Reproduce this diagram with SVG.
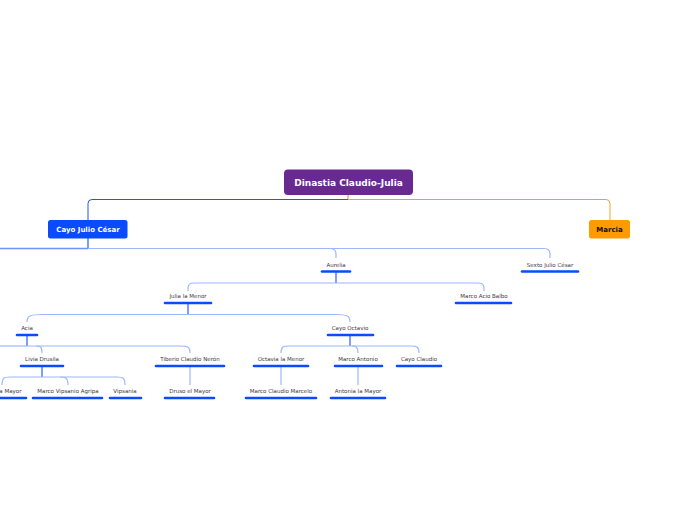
<svg xmlns="http://www.w3.org/2000/svg" width="696" height="520" viewBox="0 0 696 520">
<style>
.lbl{font-family:"DejaVu Sans","Liberation Sans",sans-serif;font-size:5.5px;fill:#3a3a3a;text-anchor:middle}
.bar{stroke:#0a4bff;stroke-width:2.6;stroke-linecap:round}
.stem{fill:none;stroke:#3a66ff;stroke-width:1.3}
.br{fill:none;stroke:#9db6ff;stroke-width:1.2}
.bt{font-family:"DejaVu Sans","Liberation Sans",sans-serif;font-weight:bold;text-anchor:middle}
</style>
<rect width="696" height="520" fill="#fff"/>
<g id="connectors">
<path d="M348,195 V199.5" fill="none" stroke="#c9a070" stroke-width="1.2"/>
<path d="M348,199.5 H92 Q88,199.5 88,203.5 V220" fill="none" stroke="#1f55f0" stroke-width="1"/>
<path d="M348,199.5 H606 Q610,199.5 610,203.5 V220" fill="none" stroke="#f0a030" stroke-width="1"/>
<path class="stem" d="M88,238 V248.5"/>
<path d="M88,248.5 H0" fill="none" stroke="#6f92ff" stroke-width="1.5"/>
<path class="br" d="M88,248.5 H330 Q336,248.5 336,254 V258"/>
<path class="br" d="M330,248.5 H544 Q550,248.5 550,254 V258"/>
<path class="stem" d="M336,272 V283"/>
<path class="br" d="M336,283 H194 Q188,283 188,288 V291"/>
<path class="br" d="M336,283 H478 Q484,283 484,288 V291"/>
<path class="stem" d="M188,303.5 V314.5"/>
<path class="br" d="M188,314.5 H42 C30,314.5 27,316 27,322"/>
<path class="br" d="M188,314.5 H336 C347,314.5 350,316 350,322"/>
<path class="stem" d="M27,335.5 V346"/>
<path class="br" d="M27,346 H0"/>
<path class="br" d="M27,346 H36 C41,346 42,347 42,353"/>
<path class="br" d="M36,346 H180 C188,346 190,347 190,353"/>
<path class="stem" d="M42,366.5 V377"/>
<path class="br" d="M42,377 H10 C4,377 2,378 2,385"/>
<path class="br" d="M42,377 H60 C66,377 68,378 68,385"/>
<path class="br" d="M60,377 H117 C123,377 125,378 125,385"/>
<path class="br" d="M190,366.5 V385"/>
<path class="stem" d="M350,335.5 V346"/>
<path class="br" d="M350,346 H289 C283,346 281,347 281,353"/>
<path class="br" d="M350,346 H352 C356,346 358,347 358,353"/>
<path class="br" d="M352,346 H411 C417,346 419,347 419,353"/>
<path class="br" d="M281,366.5 V385"/>
<path class="br" d="M358,366.5 V385"/>
</g>
<g id="root">
<rect x="284" y="169.5" width="129" height="25.5" rx="4" fill="#682a91"/>
<text class="bt" x="348.5" y="185.5" font-size="9" fill="#fff">Dinastia Claudio-Julia</text>
</g>
<g id="cayo-julio-cesar">
<rect x="48" y="220" width="79.5" height="18.5" rx="2.5" fill="#0a4bff"/>
<text class="bt" x="88" y="231.8" font-size="7" fill="#fff">Cayo Julio César</text>
</g>
<g id="marcia">
<rect x="589" y="220" width="41" height="18.5" rx="2.5" fill="#ff9a00"/>
<text class="bt" x="609.5" y="231.8" font-size="7" fill="#111">Marcia</text>
</g>
<g id="aurelia"><text class="lbl" x="336" y="266.5">Aurelia</text><line class="bar" x1="322" y1="271.5" x2="350" y2="271.5"/></g>
<g id="sexto-julio-cesar"><text class="lbl" x="550" y="266.5">Sexto Julio César</text><line class="bar" x1="522" y1="271.5" x2="578" y2="271.5"/></g>
<g id="julia-la-menor"><text class="lbl" x="188" y="298">Julia la Menor</text><line class="bar" x1="165" y1="303" x2="211" y2="303"/></g>
<g id="marco-acio-balbo"><text class="lbl" x="484" y="298">Marco Acio Balbo</text><line class="bar" x1="456" y1="303" x2="511" y2="303"/></g>
<g id="acia"><text class="lbl" x="27" y="329.5">Acia</text><line class="bar" x1="17" y1="335" x2="37" y2="335"/></g>
<g id="cayo-octavio"><text class="lbl" x="350" y="329.5">Cayo Octavio</text><line class="bar" x1="328" y1="335" x2="373" y2="335"/></g>
<g id="livia-drusila"><text class="lbl" x="42" y="360.5">Livia Drusila</text><line class="bar" x1="21" y1="366" x2="63" y2="366"/></g>
<g id="tiberio-claudio-neron"><text class="lbl" x="190" y="360.5">Tiberio Claudio Nerón</text><line class="bar" x1="156" y1="366" x2="224" y2="366"/></g>
<g id="octavia-la-menor"><text class="lbl" x="281" y="360.5">Octavia la Menor</text><line class="bar" x1="254" y1="366" x2="308" y2="366"/></g>
<g id="marco-antonio"><text class="lbl" x="358" y="360.5">Marco Antonio</text><line class="bar" x1="335" y1="366" x2="382" y2="366"/></g>
<g id="cayo-claudio"><text class="lbl" x="419" y="360.5">Cayo Claudio</text><line class="bar" x1="397" y1="366" x2="441" y2="366"/></g>
<g id="julia-la-mayor"><text class="lbl" x="3" y="392.5">Julia la Mayor</text><line class="bar" x1="-22" y1="398" x2="26" y2="398"/></g>
<g id="marco-vipsanio-agripa"><text class="lbl" x="68" y="392.5">Marco Vipsanio Agripa</text><line class="bar" x1="33" y1="398" x2="102" y2="398"/></g>
<g id="vipsania"><text class="lbl" x="125" y="392.5">Vipsania</text><line class="bar" x1="110" y1="398" x2="141" y2="398"/></g>
<g id="druso-el-mayor"><text class="lbl" x="190" y="392.5">Druso el Mayor</text><line class="bar" x1="165" y1="398" x2="214" y2="398"/></g>
<g id="marco-claudio-marcelo"><text class="lbl" x="281" y="392.5">Marco Claudio Marcelo</text><line class="bar" x1="246" y1="398" x2="316" y2="398"/></g>
<g id="antonia-la-mayor"><text class="lbl" x="358" y="392.5">Antonia la Mayor</text><line class="bar" x1="331" y1="398" x2="385" y2="398"/></g>
</svg>
